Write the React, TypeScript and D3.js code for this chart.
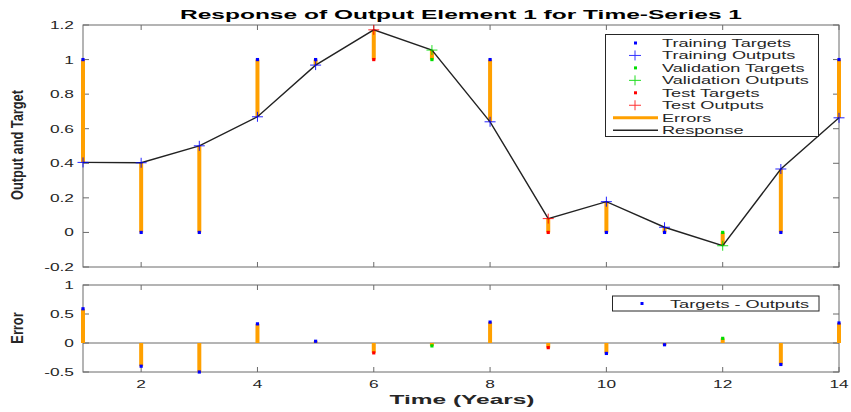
import React, { useEffect, useRef } from "react";
import * as d3 from "d3";

// time steps, targets, network outputs, and the error stems
const years = [1, 2, 3, 4, 5, 6, 7, 8, 9, 10, 11, 12, 13, 14];
const targets = [1, 0, 0, 1, 1, 1, 1, 1, 0, 0, 0, 0, 0, 1];
const outputs = [0.405, 0.403, 0.501, 0.669, 0.968, 1.172, 1.055, 0.64, 0.08, 0.178, 0.03, -0.077, 0.367, 0.663];
const errors = [0.59, -0.4, -0.5, 0.33, 0.03, -0.17, -0.05, 0.36, -0.08, -0.18, -0.03, 0.08, -0.37, 0.345];
const subsets = ["train", "train", "train", "train", "train", "test", "val", "train", "test", "train", "train", "val", "train", "train"];

const xTicks = [2, 4, 6, 8, 10, 12, 14];
const topYTicks = [-0.2, 0, 0.2, 0.4, 0.6, 0.8, 1, 1.2];
const botYTicks = [-0.5, 0, 0.5, 1];

const legendItems = [
  { label: "Training Targets", kind: "dot", color: "#0000ff" },
  { label: "Training Outputs", kind: "plus", color: "#3333ff" },
  { label: "Validation Targets", kind: "dot", color: "#00dd00" },
  { label: "Validation Outputs", kind: "plus", color: "#22dd22" },
  { label: "Test Targets", kind: "dot", color: "#ff0000" },
  { label: "Test Outputs", kind: "plus", color: "#ff3333" },
  { label: "Errors", kind: "line", color: "#ffa000" },
  { label: "Response", kind: "line", color: "#222222" },
];

const colorOf: Record<string, string> = { train: "#0000ff", val: "#00dd00", test: "#ff0000" };
const ORANGE = "#ffa000";
const AXIS = "#6a6a6a";
const SX = 1.65; // horizontal stretch of the labels in the original export
const FONT = "'Liberation Sans', Arial, sans-serif";

export default function App() {
  const ref = useRef<SVGSVGElement>(null);

  useEffect(() => {
    const svg = d3.select(ref.current);
    svg.selectAll("*").remove();

    const left = 83;
    const right = 839;
    const x = d3.scaleLinear().domain([1, 14]).range([left, right]);
    const yTop = d3.scaleLinear().domain([-0.2, 1.2]).range([267, 25]);
    const yBot = d3.scaleLinear().domain([-0.5, 1]).range([372, 285]);

    const label = (g: any, tx: number, ty: number, text: string, anchor: string, size: number) =>
      g
        .append("text")
        .attr("transform", `translate(${tx},${ty}) scale(${SX},1)`)
        .attr("text-anchor", anchor)
        .attr("font-family", FONT)
        .attr("font-size", size)
        .attr("fill", "#262626")
        .text(text);

    const frame = (y: any, yTicks: number[], showX: boolean) => {
      const [b, t] = y.range();
      const g = svg.append("g");
      g.append("rect")
        .attr("x", left)
        .attr("y", t)
        .attr("width", right - left)
        .attr("height", b - t)
        .attr("fill", "white")
        .attr("stroke", AXIS)
        .attr("stroke-width", 1);
      xTicks.forEach((v) => {
        g.append("line").attr("x1", x(v)).attr("x2", x(v)).attr("y1", b).attr("y2", b - 5).attr("stroke", AXIS);
        g.append("line").attr("x1", x(v)).attr("x2", x(v)).attr("y1", t).attr("y2", t + 5).attr("stroke", AXIS);
        if (showX) label(g, x(v), b + 16, String(v), "middle", 10.5);
      });
      yTicks.forEach((v) => {
        g.append("line").attr("x1", left).attr("x2", left + 6).attr("y1", y(v)).attr("y2", y(v)).attr("stroke", AXIS);
        g.append("line").attr("x1", right).attr("x2", right - 6).attr("y1", y(v)).attr("y2", y(v)).attr("stroke", AXIS);
        label(g, left - 9, y(v) + 4, String(v), "end", 10.5);
      });
    };

    // ---- top panel
    frame(yTop, topYTicks, false);
    const top = svg.append("g");
    years.forEach((yr, i) => {
      top.append("line")
        .attr("x1", x(yr)).attr("x2", x(yr))
        .attr("y1", yTop(targets[i])).attr("y2", yTop(outputs[i]))
        .attr("stroke", ORANGE).attr("stroke-width", 4);
    });
    const line = d3.line<number>().x((d, i) => x(years[i])).y((d) => yTop(d));
    top.append("path").attr("d", line(outputs)).attr("fill", "none").attr("stroke", "#222").attr("stroke-width", 1.4);
    years.forEach((yr, i) => {
      const c = colorOf[subsets[i]];
      top.append("rect")
        .attr("x", x(yr) - 1.6).attr("y", yTop(targets[i]) - 1.6)
        .attr("width", 3.2).attr("height", 3.2).attr("fill", c);
      const px = x(yr), py = yTop(outputs[i]);
      top.append("path")
        .attr("d", `M${px - 5.5},${py}H${px + 5.5}M${px},${py - 5}V${py + 5}`)
        .attr("stroke", c).attr("stroke-width", 1).attr("opacity", 0.85);
    });

    // top legend
    const lg = svg.append("g");
    lg.append("rect")
      .attr("x", 605.5).attr("y", 34.5).attr("width", 213).attr("height", 102)
      .attr("fill", "white").attr("stroke", "#262626").attr("stroke-width", 1);
    legendItems.forEach((d, i) => {
      const cy = 43 + i * 12.45;
      if (d.kind === "dot") {
        lg.append("rect").attr("x", 634).attr("y", cy - 1.5).attr("width", 3).attr("height", 3).attr("fill", d.color);
      } else if (d.kind === "plus") {
        lg.append("path")
          .attr("d", `M${629},${cy}H${641}M${635},${cy - 5}V${cy + 5}`)
          .attr("stroke", d.color).attr("stroke-width", 1);
      } else {
        lg.append("line")
          .attr("x1", 613).attr("x2", 658).attr("y1", cy).attr("y2", cy)
          .attr("stroke", d.color).attr("stroke-width", d.label === "Errors" ? 3 : 1.5);
      }
      label(lg, 662, cy + 4, d.label, "start", 11);
    });

    // ---- bottom panel
    frame(yBot, botYTicks, true);
    const bot = svg.append("g");
    bot.append("line").attr("x1", left).attr("x2", right).attr("y1", yBot(0)).attr("y2", yBot(0)).attr("stroke", AXIS);
    years.forEach((yr, i) => {
      bot.append("line")
        .attr("x1", x(yr)).attr("x2", x(yr))
        .attr("y1", yBot(0)).attr("y2", yBot(errors[i]))
        .attr("stroke", ORANGE).attr("stroke-width", 4);
      bot.append("rect")
        .attr("x", x(yr) - 1.6).attr("y", yBot(errors[i]) - 1.6)
        .attr("width", 3.2).attr("height", 3.2).attr("fill", colorOf[subsets[i]]);
    });
    const bl = svg.append("g");
    bl.append("rect")
      .attr("x", 612.5).attr("y", 296).attr("width", 206.5).attr("height", 15)
      .attr("fill", "white").attr("stroke", "#262626").attr("stroke-width", 1);
    bl.append("rect").attr("x", 640.5).attr("y", 302).attr("width", 3).attr("height", 3).attr("fill", "#0000ff");
    label(bl, 670, 307.5, "Targets - Outputs", "start", 11);

    // ---- titles
    svg.append("text")
      .attr("x", 461).attr("y", 19)
      .attr("text-anchor", "middle")
      .attr("font-family", FONT).attr("font-weight", "bold").attr("font-size", 13)
      .attr("textLength", 562).attr("lengthAdjust", "spacingAndGlyphs")
      .text("Response of Output Element 1 for Time-Series 1");
    svg.append("text")
      .attr("x", 462).attr("y", 404)
      .attr("text-anchor", "middle")
      .attr("font-family", FONT).attr("font-weight", "bold").attr("font-size", 12)
      .attr("textLength", 145).attr("lengthAdjust", "spacingAndGlyphs")
      .attr("fill", "#262626")
      .text("Time (Years)");
    // y labels are narrow in the original: squeeze them along the text direction
    const yLab = (cy: number, text: string) =>
      svg.append("text")
        .attr("transform", `translate(23,${cy}) rotate(-90) scale(0.8,1)`)
        .attr("text-anchor", "middle")
        .attr("font-family", FONT)
        .attr("font-weight", "bold").attr("font-size", 16)
        .attr("fill", "#262626")
        .text(text);
    yLab(145, "Output and Target");
    yLab(328, "Error");
  }, []);

  return (
    <svg
      ref={ref}
      width={851}
      height={412}
      style={{ position: "absolute", left: 0, top: 0, background: "white" }}
    />
  );
}
